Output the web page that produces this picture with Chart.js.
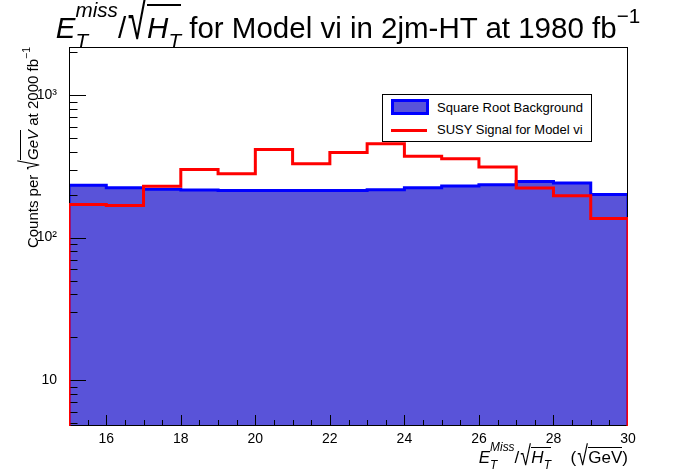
<!DOCTYPE html>
<html>
<head>
<meta charset="utf-8">
<script src="https://cdn.jsdelivr.net/npm/chart.js@4.4.1/dist/chart.umd.min.js"></script>
<style>
  body { margin: 0; background: #fff; font-family: 'Liberation Sans', Arial, sans-serif; }
  #wrap { position: relative; width: 696px; height: 474px; overflow: hidden; }
  #chart { position: absolute; left: 0; top: 0; }
  .txt { position: absolute; white-space: nowrap; color: #000; }
  .it { font-style: italic; }
  .ss { position: relative; display: inline-block; font-size: .7em; line-height: 1; font-style: italic; }
  .ss .up { position: relative; top: -1.0em; }
  .ss .dn { position: absolute; left: 0; top: .5em; }
  .sb { font-size: .7em; position: relative; top: .5em; font-style: italic; }
  .ex { font-size: .7em; position: relative; top: -.72em; }
  .rad { display: inline-block; font-size: 1.15em; line-height: 1; position: relative; top: .15em;
         transform: scaleY(1.6); transform-origin: 50% 100%; margin: 0 .02em 0 .05em; }
  .ov { border-top: .07em solid #000; padding-top: .17em; }
  #title { left: 0; top: 10px; width: 696px; text-align: center; font-size: 29.5px; line-height: 29.5px; }
  #ytitle { left: 24px; top: 347px; width: 300px; text-align: right; font-size: 15px; line-height: 15px;
            transform-origin: left top; transform: rotate(-90deg); }
  #xtitle { right: 68px; top: 447px; font-size: 17px; line-height: 17px; }
  #xtitle .rad { transform: scaleY(1.4); }
  #xtitle .ov { padding-top: 0; }
  #xtitle .gap { margin-left: .6em; }
  #legend { position: absolute; left: 382px; top: 94px; width: 210px; height: 48px; box-sizing: border-box;
            border: 1px solid #000; background: #fff; font-size: 13px; }
  #legend .sw { position: absolute; left: 8px; top: 4px; width: 38px; height: 16px; box-sizing: border-box;
                background: #5953d9; border: 3px solid #0000ff; }
  #legend .ln { position: absolute; left: 8px; top: 34px; width: 36px; height: 3px; background: #ff0000; }
  #legend .lb { position: absolute; left: 54px; line-height: 13px; }
</style>
</head>
<body>
<div id="wrap">
  <canvas id="chart" width="696" height="474"></canvas>
  <div id="title" class="txt"><span class="it">E</span><span class="ss"><span class="up">miss</span><span class="dn">T</span></span>/<span class="rad">√</span><span class="ov"><span class="it">H</span><span class="sb">T</span></span> for Model vi in 2jm-HT at 1980 fb<span class="ex">−1</span></div>
  <div id="ytitle" class="txt">Counts per <span class="rad">√</span><span class="ov"><span class="it">GeV</span></span> at 2000 fb<span class="ex">−1</span></div>
  <div id="xtitle" class="txt"><span class="it">E</span><span class="ss"><span class="up">Miss</span><span class="dn">T</span></span>/<span class="rad">√</span><span class="ov"><span class="it">H</span><span class="sb">T</span></span><span class="gap">&nbsp; (</span><span class="rad">√</span><span class="ov">GeV</span>)</div>
  <div id="legend">
    <div class="sw"></div><div class="lb" style="top:6px">Square Root Background</div>
    <div class="ln"></div><div class="lb" style="top:28px">SUSY Signal for Model vi</div>
  </div>
</div>
<script>
  // bin edges of the histograms (sqrt(GeV)), one bin per unit
  const binEdges = [15, 16, 17, 18, 19, 20, 21, 22, 23, 24, 25, 26, 27, 28, 29, 30];
  // counts per bin
  const background = [233, 224, 218, 216, 214, 214, 214, 214, 217, 224, 230, 235, 247, 242, 201];
  const signal = [171, 168, 229, 300, 281, 414, 330, 395, 456, 372, 358, 313, 223, 197, 136];
  // axis ticks
  const xTicks = [16, 18, 20, 22, 24, 26, 28, 30];
  const yTicks = [10, 100, 1000];
  const yTickLabels = ['10', '10²', '10³'];
  const yMin = 4.78, yMax = 2170;

  // outline of a ROOT-style histogram: up from the axis, steps, back down
  function histPoints(vals) {
    const last = binEdges[binEdges.length - 1];
    const pts = [{ x: binEdges[0], y: yMin }];
    vals.forEach((v, i) => pts.push({ x: binEdges[i], y: v }));
    pts.push({ x: last, y: vals[vals.length - 1] });
    pts.push({ x: last, y: yMin });
    return pts;
  }

  // inward ticks and frame, drawn over the filled background but under the signal
  const frameTicks = {
    id: 'frameTicks',
    afterDatasetDraw(chart, args) {
      if (args.index !== 0) return;
      const { ctx, chartArea: a, scales: { x, y } } = chart;
      ctx.save();
      ctx.strokeStyle = '#000';
      ctx.lineWidth = 1;
      ctx.beginPath();
      for (let v = binEdges[0] + 0.5; v < binEdges[binEdges.length - 1]; v += 0.5) {
        const px = Math.round(x.getPixelForValue(v)) + 0.5;
        const len = xTicks.includes(v) ? 11 : 6;
        ctx.moveTo(px, a.bottom);
        ctx.lineTo(px, a.bottom - len);
      }
      for (let k = 0; k < 4; k++) {
        for (let m = 1; m < 10; m++) {
          const v = m * Math.pow(10, k);
          if (v < yMin || v > yMax) continue;
          const py = Math.round(y.getPixelForValue(v)) + 0.5;
          ctx.moveTo(a.left, py);
          ctx.lineTo(a.left + (m === 1 ? 17 : 8.5), py);
        }
      }
      ctx.stroke();
      ctx.strokeRect(a.left + 0.5, a.top + 0.5, a.right - a.left - 1, a.bottom - a.top - 1);
      ctx.restore();
    }
  };

  const tickFont = { family: "'Liberation Sans', Arial, sans-serif", size: 14 };

  new Chart(document.getElementById('chart'), {
    type: 'line',
    data: {
      datasets: [{
        label: 'Square Root Background',
        data: histPoints(background),
        stepped: true,
        borderColor: '#0000ff',
        borderWidth: 3,
        backgroundColor: '#5953d9',
        fill: 'start',
        pointRadius: 0,
        borderJoinStyle: 'miter',
        order: 2
      }, {
        label: 'SUSY Signal for Model vi',
        data: histPoints(signal),
        stepped: true,
        borderColor: '#ff0000',
        borderWidth: 3,
        fill: false,
        pointRadius: 0,
        borderJoinStyle: 'miter',
        order: 1
      }]
    },
    options: {
      responsive: false,
      animation: false,
      layout: { padding: { top: 47, right: 68, left: 0, bottom: 0 } },
      scales: {
        x: {
          type: 'linear', min: binEdges[0], max: binEdges[binEdges.length - 1], bounds: 'data',
          afterBuildTicks: s => { s.ticks = xTicks.map(v => ({ value: v })); },
          afterFit: s => { s.height = 48; },
          grid: { display: false },
          border: { display: false },
          ticks: { color: '#000', font: tickFont, padding: -3, maxRotation: 0, autoSkip: false,
                   callback: v => String(v) }
        },
        y: {
          type: 'logarithmic', min: yMin, max: yMax, bounds: 'data',
          afterBuildTicks: s => { s.ticks = yTicks.map(v => ({ value: v })); },
          afterFit: s => { s.width = 69; },
          grid: { display: false },
          border: { display: false },
          ticks: { color: '#000', font: tickFont, padding: 4, autoSkip: false,
                   callback: v => yTickLabels[yTicks.indexOf(v)] ?? '' }
        }
      },
      plugins: {
        legend: { display: false },
        title: { display: false },
        tooltip: { enabled: false }
      }
    },
    plugins: [frameTicks]
  });
</script>
</body>
</html>
